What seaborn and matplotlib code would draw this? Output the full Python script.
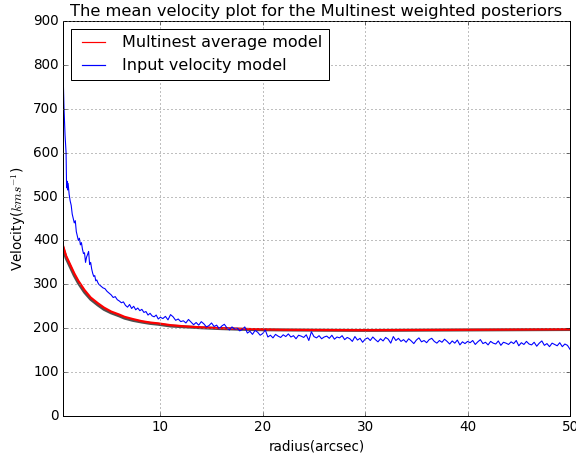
import matplotlib
matplotlib.use("Agg")
import matplotlib.pyplot as plt
from matplotlib.lines import Line2D
import seaborn as sns
import pandas as pd

# ---- data ----
red_r = [0.5, 0.8, 1.0, 1.3, 1.6, 2.0, 2.6, 3.2, 3.9, 4.5, 5.2, 6.0, 6.5, 7.3, 8.2,
         9.0, 9.8, 11, 12.5, 14, 16, 18, 20, 22, 25, 30, 35, 40, 45, 50]
red_v = [388, 365, 355, 340, 325, 308, 287, 270, 257, 247, 238, 231, 226, 221, 216,
         213, 211, 207, 204, 202, 200, 198.5, 197.5, 196.5, 196, 195.5, 196, 196.5, 197, 197.5]
gray_v = [383, 360, 350, 335, 320, 303, 282, 266, 253, 243, 235, 228, 223, 218, 214,
          211, 209, 205, 203, 201, 199, 197.5, 196.5, 196, 195.5, 195, 195.5, 196, 196.5, 197]

blue_r_early = [0.5, 0.6, 0.7, 0.8, 0.85, 0.9, 0.95, 1.0, 1.1, 1.2, 1.3, 1.4, 1.5, 1.6,
                1.7, 1.8, 1.9, 2.0, 2.1, 2.2, 2.3, 2.4, 2.5, 2.6, 2.7, 2.8, 2.9, 3.0,
                3.1, 3.2, 3.3, 3.4, 3.5, 3.6, 3.7, 3.8, 3.9, 4.0, 4.2, 4.4, 4.6, 4.8,
                5.0, 5.2, 5.4, 5.6, 5.8, 6.0, 6.2, 6.4, 6.6, 6.8, 7.0, 7.2, 7.4, 7.6,
                7.8, 8.0, 8.2, 8.4, 8.6, 8.8, 9.0, 9.2, 9.4, 9.6, 9.8, 10.0]
blue_v_early = [790, 700, 640, 600, 520, 535, 515, 530, 505, 490, 480, 460, 450, 440,
                445, 420, 410, 400, 405, 390, 395, 380, 370, 372, 350, 362, 368, 375,
                345, 350, 335, 325, 318, 320, 308, 310, 304, 300, 296, 292, 290, 284,
                280, 276, 270, 272, 265, 262, 258, 260, 252, 248, 254, 245, 250, 242,
                246, 240, 243, 236, 238, 230, 234, 228, 226, 230, 221, 225]

blue_r_late = [10.25, 10.5, 10.75, 11.0, 11.25, 11.5, 11.75, 12.0,
               12.25, 12.5, 12.75, 13.0, 13.25, 13.5, 13.75, 14.0,
               14.25, 14.5, 14.75, 15.0, 15.25, 15.5, 15.75, 16.0,
               16.25, 16.5, 16.75, 17.0, 17.25, 17.5, 17.75, 18.0,
               18.25, 18.5, 18.75, 19.0, 19.25, 19.5, 19.75, 20.0,
               20.25, 20.5, 20.75, 21.0, 21.25, 21.5, 21.75, 22.0,
               22.25, 22.5, 22.75, 23.0, 23.25, 23.5, 23.75, 24.0,
               24.25, 24.5, 24.75, 25.0, 25.25, 25.5, 25.75, 26.0,
               26.25, 26.5, 26.75, 27.0, 27.25, 27.5, 27.75, 28.0,
               28.25, 28.5, 28.75, 29.0, 29.25, 29.5, 29.75, 30.0,
               30.25, 30.5, 30.75, 31.0, 31.25, 31.5, 31.75, 32.0,
               32.25, 32.5, 32.75, 33.0, 33.25, 33.5, 33.75, 34.0,
               34.25, 34.5, 34.75, 35.0, 35.25, 35.5, 35.75, 36.0,
               36.25, 36.5, 36.75, 37.0, 37.25, 37.5, 37.75, 38.0,
               38.25, 38.5, 38.75, 39.0, 39.25, 39.5, 39.75, 40.0,
               40.25, 40.5, 40.75, 41.0, 41.25, 41.5, 41.75, 42.0,
               42.25, 42.5, 42.75, 43.0, 43.25, 43.5, 43.75, 44.0,
               44.25, 44.5, 44.75, 45.0, 45.25, 45.5, 45.75, 46.0,
               46.25, 46.5, 46.75, 47.0, 47.25, 47.5, 47.75, 48.0,
               48.25, 48.5, 48.75, 49.0, 49.25, 49.5, 49.75, 50.0]
blue_v_late = [222, 227, 219, 231, 226, 218, 221, 215,
               217, 212, 220, 214, 208, 213, 207, 215,
               210, 203, 206, 212, 204, 207, 199, 205,
               209, 201, 196, 203, 198, 200, 194, 197,
               203, 189, 193, 186, 195, 191, 184, 188,
               196, 180, 184, 178, 186, 182, 179, 185,
               181, 187, 180, 183, 176, 184, 182, 179,
               185, 172, 192, 181, 178, 183, 176, 180,
               182, 177, 184, 175, 180, 178, 183, 174,
               179, 176, 170, 181, 173, 177, 168, 175,
               178, 172, 180, 174, 169, 176, 171, 179,
               175, 166, 181, 172, 177, 170, 174, 168,
               176, 171, 165, 173, 178, 169, 172, 167,
               174, 177, 170, 166, 172, 168, 175, 170,
               164, 171, 166, 173, 162, 169, 165, 170,
               167, 172, 163, 169, 174, 165, 168, 162,
               170, 166, 164, 171, 161, 168, 166, 163,
               169, 165, 172, 160, 167, 163, 170, 164,
               162, 168, 159, 166, 171, 161, 165, 158,
               166, 163, 160, 167, 158, 164, 161, 152]

x_ticks = [10, 20, 30, 40, 50]
y_ticks = [0, 100, 200, 300, 400, 500, 600, 700, 800, 900]
labels_legend = ["Multinest average model", "Input velocity model"]

# ---- plotting ----
plt.style.use("classic")
fig = plt.figure(figsize=(8, 453 / 72), dpi=72, facecolor="white")
ax = fig.add_axes([63 / 576, 37 / 453, 507 / 576, 395 / 453])

red_df = pd.DataFrame({"r": red_r, "v": red_v, "g": gray_v})
blue_df = pd.DataFrame({"r": blue_r_early + blue_r_late, "v": blue_v_early + blue_v_late})

sns.lineplot(data=red_df, x="r", y="g", ax=ax, color="#505050", lw=3.0,
             estimator=None, sort=False, legend=False)
sns.lineplot(data=red_df, x="r", y="v", ax=ax, color="red", lw=2.2,
             estimator=None, sort=False, legend=False)
sns.lineplot(data=blue_df, x="r", y="v", ax=ax, color="#0000ff", lw=1.1,
             estimator=None, sort=False, legend=False)

ax.set_xlim(0.5, 50)
ax.set_ylim(0, 900)
ax.set_xticks(x_ticks)
ax.set_yticks(y_ticks)
ax.grid(True, color="gray", linestyle=":", linewidth=1.0)
ax.set_xlabel("radius(arcsec)", fontsize=13.5)
ax.set_ylabel(r"Velocity($kms^{-1}$)", fontsize=13.5)
ax.set_title("The mean velocity plot for the Multinest weighted posteriors",
             fontsize=16.3)
ax.tick_params(labelsize=13.5)

h_red = Line2D([0, 1], [0, 0], color="#ff0000", lw=1.2)
h_blue = Line2D([0, 1], [0, 0], color="#0000ff", lw=1.2)
leg = ax.legend([h_red, h_blue], labels_legend, loc="upper left", fontsize=16,
                frameon=True, fancybox=False)
leg.get_frame().set_edgecolor("black")

fig.savefig("out.png", dpi=72, facecolor="white")
